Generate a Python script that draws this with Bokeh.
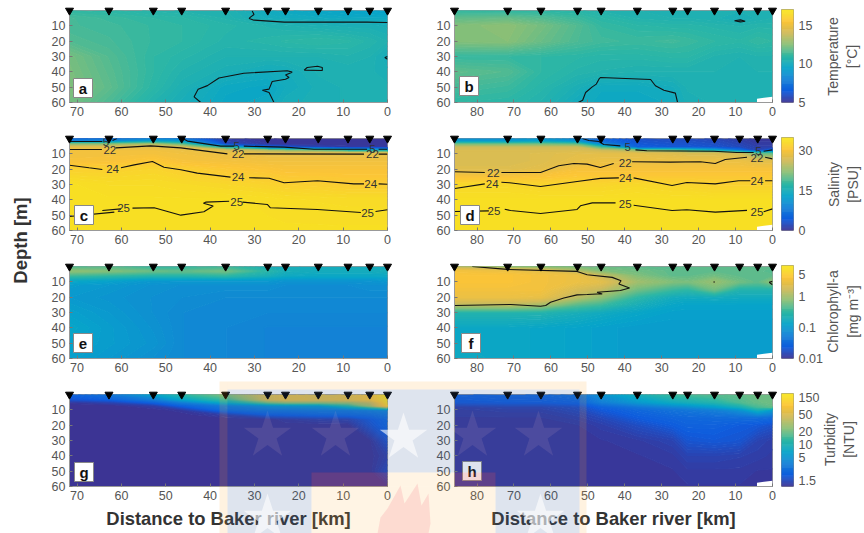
import numpy as np
from math import pi
from bokeh.plotting import figure
from bokeh.layouts import row, column
from bokeh.models import Range1d, FixedTicker
from bokeh.core.properties import value
from bokeh.embed import file_html
from bokeh.resources import INLINE

FONT = "Liberation Sans"
stations_left = [71.7, 62.8, 52.8, 46.4, 36.5, 27, 23, 15.6, 8.9, 4, 0]
stations_right = [86.1, 71.7, 62.7, 52.8, 46.4, 36.6, 27, 23, 15.7, 8.9, 4, 0]

# ---- temperature [deg C]
depth_temp = [0, 5, 10, 20, 30, 40, 50, 60]
temp_a = [
 [11.0,10.9,10.7,10.6,10.5,9.9,9.8,9.6,9.5,9.4,9.3],
 [11.4,11.2,11.0,10.9,10.6,10.1,10.0,9.9,9.8,9.8,9.8],
 [11.4,11.3,11.1,11.0,10.8,10.6,10.5,10.4,10.3,10.3,10.2],
 [11.6,11.4,11.1,11.0,10.7,10.8,10.9,11.0,10.9,10.7,10.5],
 [12.2,11.6,11.0,10.8,10.5,10.5,10.5,10.5,10.6,10.5,10.1],
 [12.3,11.7,11.0,10.6,10.3,10.0,10.1,10.4,10.4,10.4,10.3],
 [12.4,11.8,10.9,10.4,9.8,9.7,10.0,10.3,10.4,10.4,10.4],
 [12.2,11.5,10.6,10.2,9.7,9.8,10.2,10.3,10.4,10.4,10.4]]
temp_b = [
 [11.0,10.9,10.9,10.8,10.6,10.5,10.4,10.4,10.4,10.4,10.4,10.4],
 [11.8,11.9,11.6,11.2,10.9,10.6,10.5,10.5,10.4,10.2,10.4,10.5],
 [12.4,12.6,12.2,11.6,11.1,10.9,10.8,10.8,10.7,10.6,10.7,10.7],
 [12.4,12.5,12.0,11.5,11.3,11.2,11.3,11.2,11.0,10.9,11.1,11.0],
 [11.1,11.1,11.0,10.9,10.8,10.8,10.9,10.9,10.6,10.5,10.6,10.6],
 [11.8,11.6,11.0,10.7,10.6,10.5,10.5,10.5,10.5,10.5,10.5,10.5],
 [11.4,11.2,10.8,10.3,9.9,9.9,10.1,10.4,10.4,10.5,10.5,10.5],
 [11.0,10.9,10.6,10.0,9.8,9.8,9.9,10.3,10.4,10.5,10.5,10.5]]

# ---- salinity [PSU]
depth_sal_c = [0, 2, 4, 6, 8, 10, 15, 20, 30, 40, 60]
sal_c = [
 [5,6,8,7,1,.4,.3,.3,.3,.3,.3],
 [9,10,13,12,1.5,.5,.4,.4,.4,.4,.4],
 [22,22,24,20,3,.8,.6,.5,.5,.5,.5],
 [28,28,28,27,16,6,4.5,2,1,1,1],
 [29.5,29.5,29.5,29,27,24,22,20,16,14,14],
 [29.7,29.7,29.7,29.5,29,28.5,28.5,28.5,28.5,28.5,28.5],
 [30,30.2,31,30,29.7,29.5,29.5,29.5,29.5,29.5,29.5],
 [32,32,32.5,31.8,31,30.5,30.2,30.2,30.2,30.2,30.2],
 [34,33.5,33.5,33.2,32.8,32.3,32,31.8,31.5,31.5,31.5],
 [34,34,34,34,34,33.8,33.6,33.5,33.4,33.4,33.4],
 [34,34,34,34,34,34,34,34,34,34,34]]
depth_sal_d = [0, 2, 4, 6, 8, 10, 15, 20, 25, 30, 40, 60]
sal_d = [
 [10,10,11,9,5,3,2.5,2.5,2,1,.5,.5],
 [12,12,13,11,6,3.5,3,3,2.5,1.5,.7,.7],
 [21,21,21,20,10,4,3.5,3.5,3,2,1,1],
 [26,26,26,26,19,5,4,4,3.5,2.5,1.5,1.5],
 [27,27,27,27,26,22,20,18,14,7,2,6],
 [27,27,27.5,28,28,28,27.5,27,27,26,20,20],
 [27,27,27.5,28.5,29,29,29,29,29,29,28,28],
 [27.5,27.5,28,30,30,30,30,30,30,30,30,30],
 [30,30,30.5,31,31,31,31,31,31,31,31,31],
 [33,33,32.5,32.5,32.5,33,32.5,32.5,32,32,32,32],
 [34,34,34,34,34,34,34,34,34,34,34,34],
 [34,34,34,34,34,34,34,34,34,34,34,34]]

# ---- chlorophyll-a [mg m-3]
depth_chl_e = [0, 3, 6, 9, 12, 20, 30, 40, 50, 60]
chl_e = [
 [.4,.45,.3,.3,.35,.2,.2,.18,.18,.18,.18],
 [.8,.7,.55,.5,.6,.28,.2,.18,.18,.18,.2],
 [.35,.3,.25,.25,.3,.2,.16,.15,.15,.15,.15],
 [.15,.13,.1,.1,.1,.1,.09,.09,.09,.09,.1],
 [.11,.1,.085,.08,.08,.08,.075,.075,.075,.08,.08],
 [.1,.09,.08,.075,.07,.07,.07,.07,.07,.07,.07],
 [.12,.1,.08,.07,.065,.065,.065,.065,.065,.065,.065],
 [.14,.11,.085,.07,.065,.06,.06,.06,.06,.06,.06],
 [.13,.11,.09,.07,.065,.06,.06,.06,.06,.06,.06],
 [.12,.1,.08,.07,.065,.06,.06,.06,.06,.06,.06]]
depth_chl_f = [0, 3, 6, 10, 15, 20, 25, 30, 40, 60]
chl_f = [
 [1.1,.7,.6,.6,.55,.5,.45,.5,.5,.5,.5,.5],
 [3.5,3,2.5,1.2,.7,.6,.5,.5,.5,.5,.5,.45],
 [4,4,3.5,3,1.5,.7,.5,.5,.6,.5,.5,.5],
 [4,4,3.5,3,2.5,1,.7,.65,.9,.6,.5,.8],
 [3.5,3.5,3.5,2,1.5,.6,.35,.3,.6,.25,.25,.25],
 [3,3,2.8,1.3,.8,.3,.18,.17,.18,.17,.17,.17],
 [1.3,1.3,1.0,.45,.35,.2,.14,.13,.13,.13,.13,.13],
 [.25,.25,.25,.2,.17,.14,.12,.12,.12,.12,.12,.12],
 [.15,.15,.14,.13,.12,.11,.11,.11,.11,.11,.11,.11],
 [.16,.15,.14,.13,.12,.11,.11,.11,.11,.11,.11,.11]]

# ---- turbidity [NTU]
depth_tur_g = [0, 3, 5, 7, 10, 13, 16, 20, 30, 40, 50, 60]
tur_g = [
 [2.2,3,6.5,12,22,50,60,50,55,75,130],
 [1.8,2.2,3.5,7,14,50,60,55,60,75,125],
 [1.2,1.4,2.2,3.5,8,20,25,25,28,40,120],
 [1.1,1.1,1.3,2.2,3.5,5,5.5,6,12,30,100],
 [1.1,1.1,1.1,1.2,2.5,3,3,3.2,3.2,3.5,4],
 [1.1,1.1,1.1,1.1,1.3,2,2.1,2.3,2.4,2.6,3],
 [1.1,1.1,1.1,1.1,1.1,1.1,1.2,1.3,1.35,1.9,2.4],
 [1.1,1.1,1.1,1.1,1.1,1.1,1.1,1.1,1.1,1.7,2.3],
 [1.1,1.1,1.1,1.1,1.1,1.1,1.1,1.1,1.1,1.12,1.7],
 [1.1,1.1,1.1,1.1,1.1,1.1,1.1,1.1,1.1,1.1,1.3],
 [1.1,1.1,1.1,1.1,1.1,1.1,1.1,1.1,1.1,1.1,1.5],
 [1.1,1.1,1.1,1.1,1.1,1.1,1.1,1.1,1.1,1.1,1.12]]
depth_tur_h = [0, 5, 8, 10, 15, 20, 30, 40, 50, 60]
tur_h = [
 [2.2,2.3,2.4,2.8,5,9,14,15,17,18,20,20],
 [1.9,2,2,2.2,3.5,5.5,8,9,11,16,19,20],
 [1.3,1.4,1.4,1.6,2.2,3,4,4.5,6,9,15,18],
 [1.25,1.3,1.3,1.5,1.9,2.4,2.9,3.1,3.6,5,9,6],
 [1.2,1.2,1.2,1.3,1.5,2,2.3,2.4,2.5,2.6,2.6,2.5],
 [1.15,1.15,1.2,1.2,1.3,1.6,2,2.2,2.2,2,1.9,1.7],
 [1.15,1.15,1.15,1.2,1.2,1.25,1.4,1.8,1.9,1.8,1.4,1.3],
 [1.15,1.15,1.15,1.15,1.2,1.2,1.25,1.4,1.4,1.35,1.3,1.25],
 [1.15,1.15,1.15,1.15,1.15,1.15,1.2,1.25,1.25,1.25,1.2,1.2],
 [1.15,1.15,1.15,1.15,1.15,1.15,1.15,1.2,1.2,1.2,1.15,1.15]]

# ---- contour lines: (km list, depth list)
lines_a = [([30.5,30.1,30.9,31.2,30.1,23.3,4.6,0],[.4,2.6,4.3,5.2,6.3,7.6,7.6,7.8]),
 ([42.1,43.6,42.7,40.6,38,32.4,22.6,21.5,23,22.2,23,26,26.7,28.2,26.7,25.6],[60,56.3,51.3,49,44,40.9,39.3,40.2,42,43.7,44.8,46.3,51.3,52,53.5,60]),
 ([18.8,18.1,15.8,14.7,14.7,18.8],[38.9,37.2,36.4,37.2,39.1,38.9]),
 ([0,.6,0],[30,30.7,31.8])]
lines_b = [([52.6,51.4,50.6,48.8,47.7,47,46.6,33,31.7,29.4,26.3,25.7],[60,58.5,53.5,49.8,48,44.8,43.7,45,49.1,52,53.9,60]),
 ([10.3,8.7,7.4,8.7,10.3],[6.7,6.1,7,7.4,6.7])]
lines_c = [([71.7,64.3],[2,2]),([62,61],[1.3,0]),
 ([46.2,45.1,37.6,34.6],[0,1.7,5,5]),([32.4,23.3,16.6,4.6],[5,5.6,7,7]),([2,0],[7,7]),
 ([71.7,64.4],[7.2,7.2]),([61.3,53.4,46.6,36.1],[6.1,4.8,6.1,10]),([32.4,5.3],[10,10.2]),([2,0],[10.2,10.2]),
 ([71.7,67.3,64.3],[17.4,19.1,20.2]),([60.1,57.1,53,50.4,46.6,42.9,35.4],[19.1,17.2,15,18.7,20.4,22.6,25.2]),
 ([31.2,26.7,23.3,15.8,7.6,5.3],[25.6,25.9,28.9,27.6,29.6,29.6]),([2,0],[29.6,29.8]),
 ([71.7,61.6],[50.9,48]),([64.3,60.1],[47,45.9]),
 ([57.5,52.6,50.4,46.6,41.4,39.3,41.5,41,35.7],[45.4,45.2,46.9,50,47.8,44,42.2,41.5,40.9]),
 ([32.7,27.1,26.4,15.8,6],[41.5,43,45.2,46.3,48.3]),([2.7,0],[47.6,46.5])]
lines_d = [([51.5,49.7,47,45.7,41.2],[0,1.3,2,3.9,4.8]),([37.1,34,15.9,9.6,5.1],[7.4,8,8.3,9.1,9.1]),([2.4,0],[8.3,7.4]),
 ([86,77.9],[21.7,22.2]),([73.4,62.8,57.9,53.8,50.2,46.6,43],[22.2,22.2,17.8,16.3,16.7,18.9,16.3]),
 ([38,27.7,19.5,15.5,12.8,6.9],[15.2,15.4,15.2,16.3,13.7,12.2]),([2,0],[12.2,13.3]),
 ([86,77.9],[32.6,29.6]),([73.4,71.2,62.8,52.9,46.6,41.6],[28.5,28.9,31.3,28,26,25.7]),
 ([37.6,27.2,23.2,15.5,9.2,6],[25.7,30.7,28.7,29.6,27.6,27.6]),([2,0],[27.6,27.6]),
 ([86,76.8],[47.6,47.2]),([72.5,70.9,62.8,52.9,52,48.8,42.5],[46.1,47,48.9,46.3,43.9,42,42]),
 ([37.6,27.2,23.2,15.5,6.9],[43.5,47,46.5,48,46.9]),([2.4,0],[47.8,45.9])]
lines_f = [([81.3,71.8,52.9,50.2,43.4,41,41.6,38.7,41.2,47.5,46.1,47.5,50.2,52.9,56.5,60.1,61.4,62.8,70.9,86],
            [0,1.9,3.2,5.4,7.1,9.3,11.4,14,15.7,16.8,17.9,17.9,18.3,18.5,20.5,23.3,25.4,25.9,24.8,25.4]),
 ([.9,0],[10.3,9.7]),([.9,0],[10.3,11.9]),([16,15.6],[10.1,10.1])]

# ---- inline contour labels: km, depth, text
labels_c = ([63.5,34,3.4,62.6,33.7,3.4,62,33.7,3.8,59.5,34,4.5],
            [2,5,7,7.2,10,10.2,20.2,25.4,29.6,45.5,41.5,48.5],
            ["5","5","5","22","22","22","24","24","24","25","25","25"])
labels_d = ([39.2,3.8,75.6,39.9,4.2,75.9,39.8,4.2,75.4,39.9,4.2],
            [5.8,8.3,22.2,16,12.5,29.5,25.7,27.6,47,43,48],
            ["5","5","22","22","22","24","24","24","25","25","25"])
letters = ["a","b","c","d","e","f","g","h"]

cbar_titles = [("Temperature","[°C]"),("Salinity","[PSU]"),("Chlorophyll-a","[mg m⁻³]"),("Turbidity","[NTU]")]
cbar_ticks = [[5,10,15],[0,15,30],[.01,.1,1,5],[1.5,5,10,20,50,150]]
cbar_text = [["5","10","15"],["0","15","30"],["0.01","0.1","1","5"],["1.5","5","10","20","50","150"]]
xticks_left = [70,60,50,40,30,20,10,0]
xticks_right = [80,70,60,50,40,30,20,10,0]
yticks = [10,20,30,40,50,60]

# ---- parula
anch_t = [0,.125,.25,.375,.5,.625,.75,.875,.95,1]
anch_c = np.array([[62,50,145],[15,92,221],[20,129,214],[6,164,202],[46,183,164],[135,191,119],
                   [209,187,89],[252,196,55],[248,218,40],[248,228,30]],float)
N = 96
def hexcol(c): return "#%02x%02x%02x" % tuple(int(round(v)) for v in c)
palette = [hexcol([np.interp(t,anch_t,anch_c[:,k]) for k in range(3)]) for t in (np.arange(N)+.5)/N]

LIM = [(5,17,False),(0,35,False),(.01,10,True),(1.09,150,True)]
TXT = "#555555"

def style(p, xt):
    p.xaxis.ticker = FixedTicker(ticks=xt)
    p.yaxis.ticker = FixedTicker(ticks=yticks)
    p.grid.visible = False
    for ax in (p.xaxis, p.yaxis):
        ax.major_label_text_font = FONT
        ax.major_label_text_font_size = "12.5px"
        ax.major_label_text_color = TXT
        ax.major_tick_in = 3
        ax.major_tick_out = 0
        ax.minor_tick_line_color = None
        ax.major_tick_line_color = "#777777"
        ax.axis_line_color = "#999999"
        ax.major_label_standoff = 4
    p.outline_line_color = "#999999"

def panel(stations, depths, grid, lim, lines, labels, xt, ml, mr, h, mt, mb, notch=False):
    vmin, vmax, islog = lim
    p = figure(width=ml+318+mr, height=h, x_range=Range1d(stations[0],0), y_range=Range1d(60,0),
               output_backend="svg", toolbar_location=None, min_border_left=ml, min_border_right=mr,
               min_border_top=mt, min_border_bottom=mb)
    z = np.array(grid,float)[:, ::-1]
    x = np.array(stations,float)[::-1]
    y = np.array(depths,float)
    if islog:
        z = np.log10(z); lo, hi = np.log10(vmin), np.log10(vmax)
    else:
        lo, hi = vmin, vmax
    lv = np.linspace(lo, hi, N+1)
    p.contour(x, y, z, levels=lv, fill_color=palette, line_color=palette+[palette[-1]], line_width=1.3)
    for lx, ly in lines:
        p.line(lx, ly, line_color="#111111", line_width=1.1)
    if labels:
        p.text(labels[0], labels[1], text=labels[2], text_font=value(FONT), text_font_size="11.5px",
               text_align="center", text_baseline="middle", text_color="#333333")
    if notch:
        p.patch([4.2,0,0,4.2],[57.5,56.2,60,60], fill_color="white", line_color=None)
    style(p, xt)
    return p

def cbar(lim, ticks, text, h, mt, mb):
    vmin, vmax, islog = lim
    e = np.geomspace(vmin,vmax,N+1) if islog else np.linspace(vmin,vmax,N+1)
    p = figure(width=88, height=h, x_range=Range1d(0,1), y_range=Range1d(vmin,vmax),
               y_axis_type="log" if islog else "linear", y_axis_location="right", x_axis_location=None,
               output_backend="svg", toolbar_location=None, min_border_left=5, min_border_right=71,
               min_border_top=mt, min_border_bottom=mb)
    p.quad(left=0,right=1,bottom=e[:-1],top=e[1:],fill_color=palette,line_color=palette,line_width=.5)
    p.grid.visible = False
    ax = p.yaxis[0]
    ax.ticker = FixedTicker(ticks=ticks)
    ax.major_label_overrides = dict(zip(ticks,text))
    ax.major_label_text_font = FONT
    ax.major_label_text_font_size = "12.5px"
    ax.major_label_text_color = TXT
    ax.major_tick_in = 0; ax.major_tick_out = 0
    ax.minor_tick_line_color = None
    ax.axis_line_color = None
    ax.major_label_standoff = 5
    p.outline_line_color = "#999999"
    return p

# row heights: frame 92px, rows 128px apart, first row starts at the page top
H1, H2, H4 = 136, 128, 141
rows_h = [H1, H2, H2, H4]
tops = [10, 2, 2, 2]
bots = [34, 34, 34, 47]
def pl(i, st, d, g, lim, ln, lb, xt, ml, mr, notch=False):
    return panel(st, d, g, lim, ln, lb, xt, ml, mr, rows_h[i], tops[i], bots[i], notch)
left = column(
    pl(0, stations_left, depth_temp, temp_a, LIM[0], lines_a, None, xticks_left, 69, 43),
    pl(1, stations_left, depth_sal_c, sal_c, LIM[1], lines_c, labels_c, xticks_left, 69, 43),
    pl(2, stations_left, depth_chl_e, chl_e, LIM[2], [], None, xticks_left, 69, 43),
    pl(3, stations_left, depth_tur_g, tur_g, LIM[3], [], None, xticks_left, 69, 43))
mid = column(
    pl(0, stations_right, depth_temp, temp_b, LIM[0], lines_b, None, xticks_right, 24, 4, True),
    pl(1, stations_right, depth_sal_d, sal_d, LIM[1], lines_d, labels_d, xticks_right, 24, 4, True),
    pl(2, stations_right, depth_chl_f, chl_f, LIM[2], lines_f, None, xticks_right, 24, 4, True),
    pl(3, stations_right, depth_tur_h, tur_h, LIM[3], [], None, xticks_right, 24, 4, True))
bars = column(*[cbar(LIM[i], cbar_ticks[i], cbar_text[i], rows_h[i], tops[i]-1, bots[i]) for i in range(4)])
main = row(left, mid, bars)

# ---- overlay in page pixels: station triangles, panel letters, titles, watermark
W, H = 864, 533
ov = figure(width=W, height=H, x_range=Range1d(0,W), y_range=Range1d(H,0),
            output_backend="svg", toolbar_location=None, min_border=0,
            x_axis_location=None, y_axis_location=None, background_fill_alpha=0, border_fill_alpha=0,
            outline_line_color=None, margin=(-H,0,0,0))
ov.grid.visible = False
kL = 318/71.7; kR = 318/86.1
ov.extra_x_ranges = {"kL": Range1d(387/kL, (387-W)/kL), "kR": Range1d(772/kR, (772-W)/kR)}
row_top = [10,138,266,394]
for ry in row_top:
    ov.scatter(stations_left, [ry]*len(stations_left), x_range_name="kL", marker="inverted_triangle",
               size=8, color="black", line_color="black")
    ov.scatter(stations_right, [ry]*len(stations_right), x_range_name="kR", marker="inverted_triangle",
               size=8, color="black", line_color="black")
box_l = [73,459,74,460,73,461,74,462]
box_t = [78,76,205,205,333,333,462,461]
S = 19
ov.quad(left=box_l, right=[v+S for v in box_l], top=box_t, bottom=[v+S for v in box_t],
        fill_color="white", line_color="#888888", line_width=1)
ov.text([v+S/2 for v in box_l], [v+S/2+.5 for v in box_t], text=letters, text_font=value(FONT),
        text_font_style="bold", text_font_size="15px", text_align="center", text_baseline="middle", text_color="#111111")
ov.text([228,613],[518,518], text=["Distance to Baker river [km]"]*2, text_font=value(FONT), text_font_style="bold",
        text_font_size="18.4px", text_align="center", text_baseline="middle", text_color="#333333")
ov.text([20],[240], text=["Depth [m]"], angle=pi/2, text_font=value(FONT), text_font_style="bold",
        text_font_size="18.5px", text_align="center", text_baseline="middle", text_color="#333333")
ty = [56,184,311,439]
tx = [(832,851),(833,852),(832,852),(829,848)]
for i in range(4):
    ov.text([tx[i][0],tx[i][1]],[ty[i],ty[i]], text=list(cbar_titles[i]), angle=pi/2, text_font=value(FONT),
            text_font_size="14px", text_align="center", text_baseline="middle", text_color=TXT)

# watermark
ov.quad(left=[219,579,227],right=[227,586,579],top=[381,381,381],bottom=[533,533,389],
        fill_color="#ffa731", fill_alpha=.15, line_color=None)
ov.patch([227,579,579,495,495,311,311,227],[389,389,533,533,472,472,533,533],
         fill_color="#3d609b", fill_alpha=.17, line_color=None)
ov.quad(left=[311,454],right=[387,495],top=[472,472],bottom=[486,486],fill_color="#d05a5a",fill_alpha=.25,line_color=None)
ov.quad(left=[387,311],right=[454,495],top=[472,486],bottom=[486,533],
        fill_color="#ffa731",fill_alpha=.13,line_color=None)
ov.patch([377,380,387,400,404,417,421,428,430,428],[533,517,508,485,503,483,505,493,523,533],
         fill_color="#f06070",fill_alpha=.16,line_color=None)
ov.scatter([267,335,472,538],[435]*4,marker="star",size=50,color="#ffd0d0",alpha=.1,line_color=None)
ov.scatter([403],[437],marker="star",size=50,color="white",alpha=.6,line_color=None)
ov.scatter([267,540],[518,518],marker="star",size=50,color="white",alpha=.6,line_color=None)

page = column(main, ov)
open("out.html","w").write(file_html(page, INLINE))
